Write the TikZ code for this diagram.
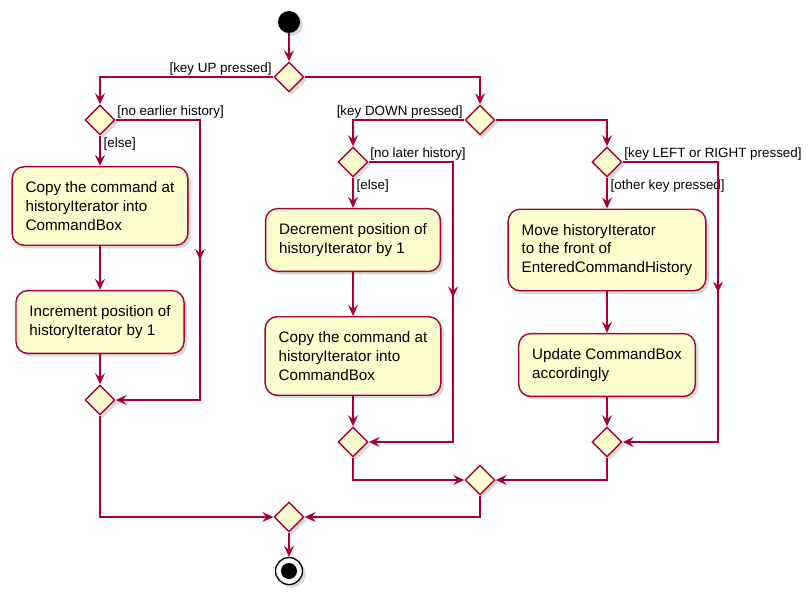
\documentclass[tikz,border=0pt]{standalone}
\usepackage{fontspec}
\setmainfont{Liberation Sans}
\usetikzlibrary{arrows.meta,positioning,shapes.geometric,shadows,decorations.markings}
\definecolor{umlRed}{HTML}{A80036}
\definecolor{umlFill}{HTML}{FEFECE}

\begin{document}
\begin{tikzpicture}[x=1pt,y=-1pt,
  wire/.style={umlRed,line width=1.4pt},
  flow/.style={wire,-{Stealth[length=11pt,width=10pt,inset=4pt]}},
  midarrow/.style={postaction={decorate},decoration={markings,
    mark=at position #1 with {\arrow{Stealth[length=11pt,width=10pt,inset=4pt]}}}},
  act/.style={rectangle,rounded corners=12pt,draw=umlRed,fill=umlFill,line width=1.4pt,
    align=left,inner xsep=13.5pt,inner ysep=15pt,font=\fontsize{15.2}{18.7}\selectfont,
    drop shadow={shadow xshift=3pt,shadow yshift=-3pt,opacity=0.3}},
  choice/.style={diamond,aspect=1,minimum width=30pt,minimum height=30pt,inner sep=0pt,
    draw=umlRed,fill=umlFill,line width=1.4pt,
    drop shadow={shadow xshift=3pt,shadow yshift=-3pt,opacity=0.3}},
  guard/.style={font=\fontsize{13.4}{15}\selectfont,inner sep=1.5pt},
  startdot/.style={circle,fill=black,minimum size=22pt,inner sep=0pt,
    drop shadow={shadow xshift=3pt,shadow yshift=-3pt,opacity=0.3}},
  stopring/.style={circle,draw=black,fill=white,line width=1.3pt,minimum size=27pt,inner sep=0pt,
    drop shadow={shadow xshift=3pt,shadow yshift=-3pt,opacity=0.3}},
  stopdot/.style={circle,fill=black,minimum size=16pt,inner sep=0pt}]
  \useasboundingbox (0,0) rectangle (808,597);
  % start and key switch
  \node[startdot] (start) at (289,22) {};
  \node[choice] (dKey) at (289,77) {};
  % key UP branch
  \node[choice] (dEarlier) at (100,120) {};
  \node[act] (copyUp) at (100,206) {Copy the command at\\historyIterator into\\CommandBox};
  \node[act] (incPos) at (100,322) {Increment position of\\historyIterator by 1};
  \node[choice] (mEarlier) at (100,400) {};
  \coordinate (skipUp) at (200,120);
  % key DOWN branch
  \node[choice] (dDown) at (480,120) {};
  \node[choice] (dLater) at (353,162) {};
  \node[act] (decPos) at (353,240) {Decrement position of\\historyIterator by 1};
  \node[act] (copyDown) at (353,356) {Copy the command at\\historyIterator into\\CommandBox};
  \node[choice] (mLater) at (353,442) {};
  \coordinate (skipDown) at (453,162);
  % other keys
  \node[choice] (dOther) at (607,162) {};
  \node[act] (moveIt) at (607,250) {Move historyIterator\\to the front of\\EnteredCommandHistory};
  \node[act] (update) at (607,365) {Update CommandBox\\accordingly};
  \node[choice] (mOther) at (607,442) {};
  \coordinate (skipOther) at (718,162);
  % merges and end
  \node[choice] (mSide) at (480,480) {};
  \node[choice] (mAll) at (289,517) {};
  \node[stopring] (stop) at (289,571) {};
  \node[stopdot] (stopDot) at (stop) {};
  % guards
  \node[guard,anchor=south east] (gUp) at (dKey.west) {[key UP pressed]};
  \node[guard,anchor=south west] (gEarlier) at (dEarlier.east) {[no earlier history]};
  \node[guard,anchor=north west,xshift=2pt] (gElseUp) at (dEarlier.south) {[else]};
  \node[guard,anchor=south east] (gDown) at (dDown.west) {[key DOWN pressed]};
  \node[guard,anchor=south west] (gLater) at (dLater.east) {[no later history]};
  \node[guard,anchor=north west,xshift=2pt] (gElseDown) at (dLater.south) {[else]};
  \node[guard,anchor=south west] (gSide) at (dOther.east) {[key LEFT or RIGHT pressed]};
  \node[guard,anchor=north west,xshift=2pt] (gOther) at (dOther.south) {[other key pressed]};
  % flows
  \draw[flow] (start) -- (dKey);
  \draw[flow] (dKey.west) -| (dEarlier.north);
  \draw[flow] (dKey.east) -| (dDown.north);
  \draw[flow] (dEarlier) -- (copyUp);
  \draw[flow] (copyUp) -- (incPos);
  \draw[flow] (incPos) -- (mEarlier);
  \draw[flow,midarrow=0.5] (dEarlier.east) -- (skipUp) |- (mEarlier.east);
  \draw[flow] (dDown.west) -| (dLater.north);
  \draw[flow] (dDown.east) -| (dOther.north);
  \draw[flow] (dLater) -- (decPos);
  \draw[flow] (decPos) -- (copyDown);
  \draw[flow] (copyDown) -- (mLater);
  \draw[flow,midarrow=0.49] (dLater.east) -- (skipDown) |- (mLater.east);
  \draw[flow] (dOther) -- (moveIt);
  \draw[flow] (moveIt) -- (update);
  \draw[flow] (update) -- (mOther);
  \draw[flow,midarrow=0.48] (dOther.east) -- (skipOther) |- (mOther.east);
  \draw[flow] (mLater.south) |- (mSide.west);
  \draw[flow] (mOther.south) |- (mSide.east);
  \draw[flow] (mEarlier.south) |- (mAll.west);
  \draw[flow] (mSide.south) |- (mAll.east);
  \draw[flow] (mAll) -- (stop);
\end{tikzpicture}
\end{document}
